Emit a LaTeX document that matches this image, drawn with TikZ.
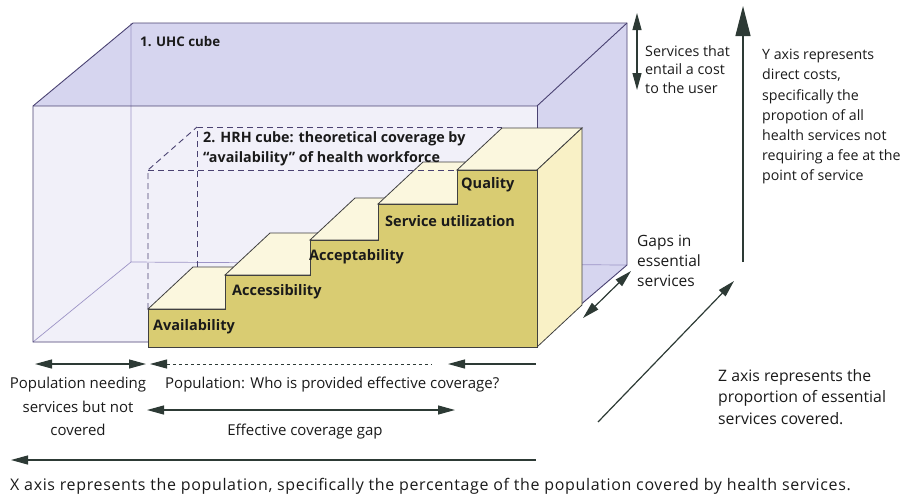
\documentclass[tikz,border=0pt]{standalone}
\usepackage{fontspec}
\setmainfont{Open Sans}
\usetikzlibrary{arrows.meta}
\definecolor{lavender}{HTML}{D6D5EF}
\definecolor{frontface}{HTML}{F1F0F9}
\definecolor{boxline}{HTML}{4A4272}
\definecolor{backline}{HTML}{9D94C6}
\definecolor{stepfront}{HTML}{D9CC72}
\definecolor{steptop}{HTML}{FBF7DE}
\definecolor{stepside}{HTML}{F9F1C6}
\definecolor{arrowcol}{HTML}{2D3A35}
\definecolor{txt}{HTML}{1A1A1A}
\tikzset{
  boxedge/.style={draw=boxline,line width=0.9pt},
  backedge/.style={draw=backline,line width=0.7pt},
  hrhline/.style={draw=boxline,line width=0.9pt,dash pattern=on 6pt off 4pt},
  stepedge/.style={draw=black!75,line width=0.8pt},
  arr/.style={draw=arrowcol,line width=1.2pt},
  steplabel/.style={anchor=west,inner sep=0pt,font=\bfseries\fontsize{14.5}{17}\selectfont,text=txt},
  note/.style={inner sep=0pt,font=\fontsize{15}{23.5}\selectfont,text=txt}
}
\begin{document}
\begin{tikzpicture}[x=1pt,y=-1pt,>={Triangle[length=17pt,width=9pt]}]
\useasboundingbox (0,0) rectangle (907,501);

\fill[lavender] (33,106) -- (133,23) -- (627,23) -- (627,265) -- (537,342) -- (33,342) -- cycle;
\fill[frontface] (33,106) rectangle (537,342);
\draw[backedge] (131,23) -- (131,262) -- (627,265);
\draw[backedge] (33,342) -- (131,262);
\draw[boxedge] (33,342) -- (33,106) -- (133,23) -- (627,23) -- (627,265) -- (537,342) -- cycle;
\draw[boxedge] (33,106) -- (537,106) -- (627,23);
\draw[boxedge] (537,106) -- (537,342);

\draw[hrhline] (197,267) -- (197,127) -- (502,127);
\draw[hrhline] (148,309) -- (148,170) -- (197,127);

\foreach \xa/\xb/\yy in {148/225/309, 225/310/275, 310/378/240, 378/457/204, 457/537/170}
  \filldraw[fill=steptop,stepedge] (\xa,\yy) -- (\xb,\yy) -- ++(45,-42) -- (\xa+45,\yy-42) -- cycle;
\draw[hrhline] (148,170) -- (457,170);
\filldraw[fill=stepside,stepedge] (537,170) -- (582,128) -- (582,305) -- (537,347) -- cycle;
\filldraw[fill=stepfront,stepedge] (148,347) -- (148,309) -- (225,309) -- (225,275) -- (310,275)
  -- (310,240) -- (378,240) -- (378,204) -- (457,204) -- (457,170) -- (537,170) -- (537,347) -- cycle;

\node[steplabel] (avail) at (153,327) {Availability};
\node[steplabel] (access) at (232,292) {Accessibility};
\node[steplabel] (accept) at (309,257) {Acceptability};
\node[steplabel] (util) at (385,221) {Service utilization};
\node[steplabel] (quality) at (461,185) {Quality};
\node[steplabel,font=\bfseries\fontsize{13.3}{16}\selectfont] (uhc) at (140,42) {1. UHC cube};
\node[steplabel,anchor=north west,align=left,font=\bfseries\fontsize{14.3}{20}\selectfont] (hrh) at (203,131)
  {2. HRH cube: theoretical coverage by\\``availability'' of health workforce};

\coordinate (costtop) at (637,13);
\coordinate (costbot) at (637,90);
\draw[arr,<->] (costbot) -- (costtop);
\node[note,anchor=north west,align=left,font=\fontsize{14.3}{18.5}\selectfont] (cost) at (645,45)
  {Services that\\entail a cost\\to the user};

\coordinate (ybot) at (743,262);
\coordinate (ytop) at (743,6);
\draw[arr,-{Triangle[length=30pt,width=15pt]}] (ybot) -- (ytop);
\node[note,anchor=north west,align=left,font=\fontsize{14.2}{20.2}\selectfont] (ytext) at (762,49)
  {Y axis represents\\direct costs,\\specifically the\\propotion of all\\health services not\\requiring a fee at the\\point of service};

\coordinate (gapa) at (583,318);
\coordinate (gapb) at (631,271);
\draw[arr,<->] (gapa) -- (gapb);
\node[note,anchor=north west,align=left,font=\fontsize{15.5}{20}\selectfont] (gaps) at (637,235)
  {Gaps in\\essential\\services};

\coordinate (zbot) at (598,422);
\coordinate (ztop) at (734,281);
\draw[arr,->] (zbot) -- (ztop);
\node[note,anchor=north west,align=left,font=\fontsize{15.8}{21.5}\selectfont] (ztext) at (718,369)
  {Z axis represents the\\proportion of essential\\services covered.};

\coordinate (needl) at (35,364);
\coordinate (needr) at (146,364);
\draw[arr,<->] (needl) -- (needr);
\coordinate (whol) at (150,364);
\coordinate (whor) at (432,364);
\draw[arr,dashed,line width=1pt,<-] (whol) -- (whor);
\coordinate (restl) at (448,364);
\coordinate (restr) at (536,364);
\draw[arr,<-] (restl) -- (restr);

\node[note,anchor=north,align=center] (need) at (78,377)
  {Population needing\\services but not\\covered};
\node[note,anchor=north west] (who) at (165,377) {Population: Who is provided effective coverage?};

\coordinate (effl) at (147,410);
\coordinate (effr) at (455,410);
\draw[arr,<->] (effl) -- (effr);
\node[note,anchor=north] (eff) at (305,424) {Effective coverage gap};

\coordinate (xl) at (11,460);
\coordinate (xr) at (536,460);
\draw[arr,<-] (xl) -- (xr);
\node[note,anchor=north west,font=\fontsize{16}{18}\selectfont\addfontfeature{LetterSpace=4}] (xtext) at (10,478)
  {X axis represents the population, specifically the percentage of the population covered by health services.};
\end{tikzpicture}
\end{document}
